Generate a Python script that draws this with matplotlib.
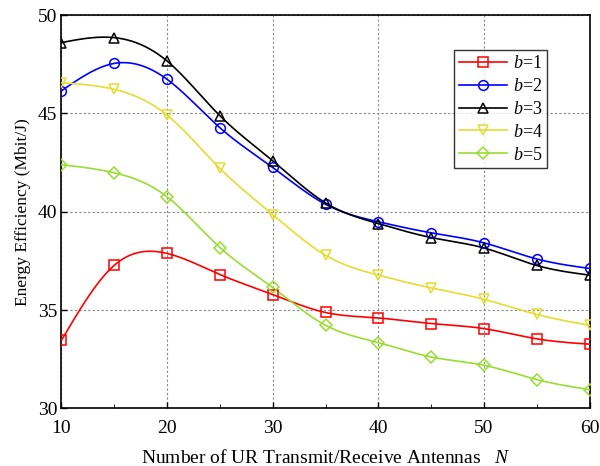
import numpy as np
import matplotlib
matplotlib.use("Agg")
import matplotlib.pyplot as plt
from matplotlib.ticker import MultipleLocator

plt.rcParams['font.family'] = ['Liberation Serif', 'DejaVu Serif']
plt.rcParams['mathtext.fontset'] = 'custom'
plt.rcParams['mathtext.rm'] = 'Liberation Serif'
plt.rcParams['mathtext.it'] = 'Liberation Serif:italic'

N = [10, 15, 20, 25, 30, 35, 40, 45, 50, 55, 60]
b1 = [33.47, 37.28, 37.88, 36.81, 35.79, 34.88, 34.60, 34.32, 34.06, 33.54, 33.27]
b2 = [46.15, 47.54, 46.73, 44.27, 42.25, 40.38, 39.49, 38.93, 38.42, 37.60, 37.12]
b3 = [48.60, 48.85, 47.66, 44.88, 42.59, 40.45, 39.40, 38.69, 38.16, 37.27, 36.78]
b4 = [46.56, 46.22, 44.91, 42.20, 39.86, 37.79, 36.78, 36.13, 35.55, 34.78, 34.23]
b5 = [42.39, 41.98, 40.76, 38.18, 36.15, 34.23, 33.35, 32.62, 32.20, 31.47, 30.96]
labels = ['$b$=1', '$b$=2', '$b$=3', '$b$=4', '$b$=5']
colors = ['#ff0000', '#0000ff', '#000000', '#e6dc32', '#99dd33']
markers = ['s', 'o', '^', 'v', 'D']


def natural_spline(x, y, xs):
    x = np.asarray(x, float); y = np.asarray(y, float)
    n = len(x)
    h = np.diff(x)
    A = np.zeros((n, n)); r = np.zeros(n)
    A[0, 0] = 1; A[-1, -1] = 1
    for i in range(1, n - 1):
        A[i, i - 1] = h[i - 1]
        A[i, i] = 2 * (h[i - 1] + h[i])
        A[i, i + 1] = h[i]
        r[i] = 3 * ((y[i + 1] - y[i]) / h[i] - (y[i] - y[i - 1]) / h[i - 1])
    c = np.linalg.solve(A, r)
    b = (y[1:] - y[:-1]) / h - h * (2 * c[:-1] + c[1:]) / 3
    d = (c[1:] - c[:-1]) / (3 * h)
    idx = np.clip(np.searchsorted(x, xs) - 1, 0, n - 2)
    t = xs - x[idx]
    return y[idx] + b[idx] * t + c[idx] * t ** 2 + d[idx] * t ** 3


fig = plt.figure(figsize=(6, 4.66), dpi=100)
ax = fig.add_axes([0.1025, 0.1234, 0.88, 0.8444])

xs = np.linspace(10, 60, 500)
for ys, lab, col, mk in zip([b1, b2, b3, b4, b5], labels, colors, markers):
    ms = 7 if mk != 'D' else 6.5
    ax.plot(xs, natural_spline(N, ys, xs), color=col, lw=1.2, zorder=3)
    ax.plot(N, ys, linestyle='none', marker=mk, mfc='none', mec=col,
            ms=ms, mew=1.1, zorder=4)
    ax.plot([], [], color=col, lw=1.2, marker=mk, mfc='none', mec=col,
            ms=ms, mew=1.1, label=lab)

ax.set_xlim(10, 60)
ax.set_ylim(30, 50)
ax.xaxis.set_major_locator(MultipleLocator(10))
ax.xaxis.set_minor_locator(MultipleLocator(5))
ax.yaxis.set_major_locator(MultipleLocator(5))
ax.tick_params(direction='in', labelsize=14, length=4, width=1,
               top=False, right=False, pad=3)
ax.tick_params(axis='x', pad=8)
ax.tick_params(which='minor', direction='in', length=3, top=False, right=False)
ax.grid(True, which='major', color='#888888', linestyle=(0, (2, 2)), lw=0.8)
for s in ax.spines.values():
    s.set_linewidth(1.2)

ax.set_xlabel('Number of UR Transmit/Receive Antennas   $N$', fontsize=14, labelpad=9)
ax.set_ylabel('Energy Efficiency (Mbit/J)', fontsize=12.5, labelpad=5)

leg = ax.legend(loc='upper right', bbox_to_anchor=(0.92, 0.91), fontsize=13,
                frameon=True, fancybox=False, edgecolor='black',
                handlelength=2.7, borderpad=0.25, labelspacing=0.33,
                handletextpad=0.3, borderaxespad=0)
leg.get_frame().set_linewidth(1.0)

fig.savefig('out.png', dpi=100)
